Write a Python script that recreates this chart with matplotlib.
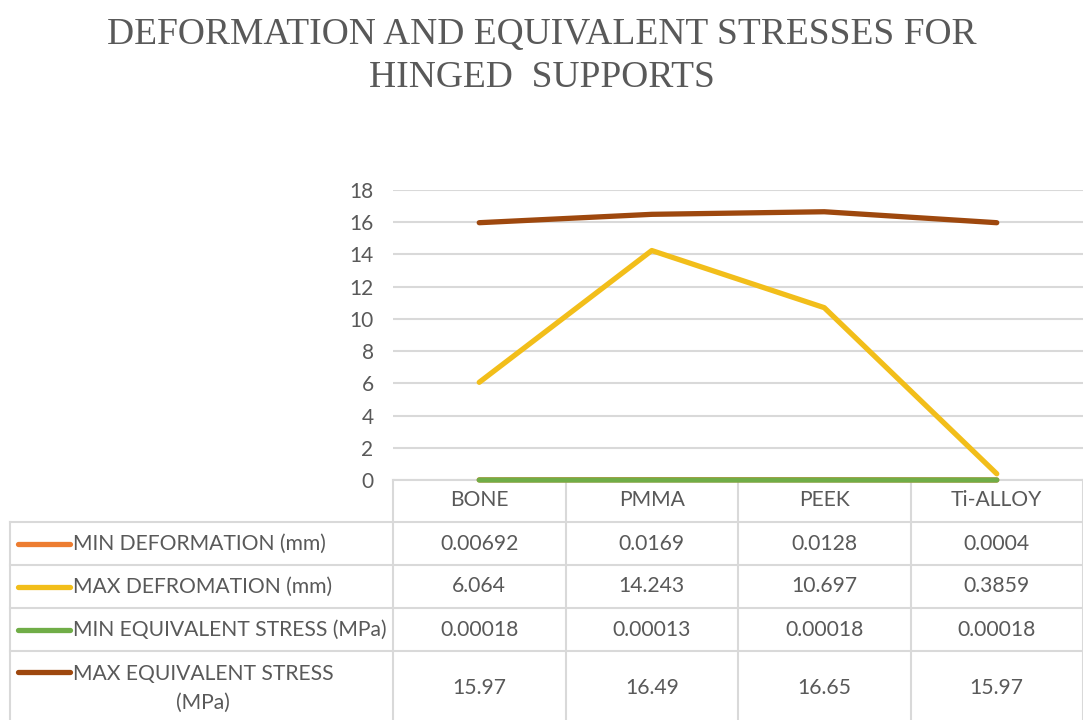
import matplotlib.pyplot as plt

CATEGORIES = ['BONE', 'PMMA', 'PEEK', 'Ti-ALLOY']
MIN_DEFORMATION = [0.00692, 0.0169, 0.0128, 0.0004]
MAX_DEFORMATION = [6.064, 14.243, 10.697, 0.3859]
MIN_STRESS = [0.00018, 0.00013, 0.00018, 0.00018]
MAX_STRESS = [15.97, 16.49, 16.65, 15.97]

SERIES_NAMES = ['MIN DEFORMATION (mm)', 'MAX DEFROMATION (mm)',
                'MIN EQUIVALENT STRESS (MPa)', 'MAX EQUIVALENT STRESS\n(MPa)']
SERIES_VALUES = [MIN_DEFORMATION, MAX_DEFORMATION, MIN_STRESS, MAX_STRESS]
SERIES_LABELS = [['0.00692', '0.0169', '0.0128', '0.0004'],
                 ['6.064', '14.243', '10.697', '0.3859'],
                 ['0.00018', '0.00013', '0.00018', '0.00018'],
                 ['15.97', '16.49', '16.65', '15.97']]
COLORS = ['#ED7D31', '#F2BE1A', '#70AD47', '#9E480E']

TEXT = '#595959'
GRID = '#D9D9D9'
W, H = 1083, 720

fig = plt.figure(figsize=(W / 100, H / 100), dpi=100)
fig.patch.set_facecolor('white')

fig.text(0.5, 1 - 56 / H, 'DEFORMATION AND EQUIVALENT STRESSES FOR\nHINGED  SUPPORTS',
         ha='center', va='center', family='Liberation Serif', fontsize=27,
         color=TEXT, linespacing=1.32)

# plot area
ax = fig.add_axes([393 / W, (H - 480) / H, 1 - 393 / W, 290 / H])
ax.set_zorder(3)
ax.patch.set_visible(False)
x = range(len(CATEGORIES))
for vals, col in zip(SERIES_VALUES, COLORS):
    ax.plot(x, vals, color=col, lw=3.8, solid_capstyle='round', clip_on=False, zorder=3)
ax.set_xlim(-0.5, 3.5)
ax.set_ylim(0, 18)
ax.set_yticks(range(0, 19, 2))
ax.yaxis.grid(True, color=GRID, lw=1.5)
ax.set_axisbelow(True)
for s in ax.spines.values():
    s.set_visible(False)
ax.tick_params(axis='y', length=0, pad=14, labelsize=15, labelcolor=TEXT)
ax.set_xticks([])
for lab in ax.get_yticklabels():
    lab.set_family('Lato')

# data table below the plot, in category units horizontally
cat_w = (W - 393) / 4
left_units = (393 - 10) / cat_w
tax = fig.add_axes([10 / W, 0, 1 - 10 / W, (H - 480) / H])
tax.set_xlim(-0.5 - left_units, 3.5)
tax.set_ylim(240, 0)
tax.axis('off')

FS = 15.2
row_edges = [0, 42, 85, 128, 171, 245]
x0 = -0.5 - left_units
lk = dict(color=GRID, lw=1.5, clip_on=False)
tax.plot([-0.5, 3.5], [0, 0], **lk)
for yb in row_edges[1:5]:
    tax.plot([x0, 3.5], [yb, yb], **lk)
for xb in [-0.5, 0.5, 1.5, 2.5, 3.5]:
    tax.plot([xb, xb], [0, 245], **lk)
tax.plot([x0, x0], [42, 245], **lk)

for i, c in enumerate(CATEGORIES):
    tax.text(i, 20, c, ha='center', va='center', fontsize=FS, color=TEXT, family='Lato')

key_x0 = x0 + 8 / cat_w
key_x1 = x0 + 60 / cat_w
for r, (name, col, labs) in enumerate(zip(SERIES_NAMES, COLORS, SERIES_LABELS)):
    yc = (row_edges[r + 1] + row_edges[r + 2]) / 2
    if r == 3:
        yc = 208
    ky = yc if r < 3 else 192
    tax.plot([key_x0, key_x1], [ky, ky], color=col, lw=3.8, solid_capstyle='round')
    tax.text(key_x1 + 3 / cat_w, yc, name, ha='left', va='center', fontsize=FS,
             color=TEXT, family='Lato', multialignment='center', linespacing=1.55)
    for i, lab in enumerate(labs):
        tax.text(i, yc, lab, ha='center', va='center', fontsize=FS, color=TEXT, family='Lato')

fig.savefig('out.png', dpi=100)
